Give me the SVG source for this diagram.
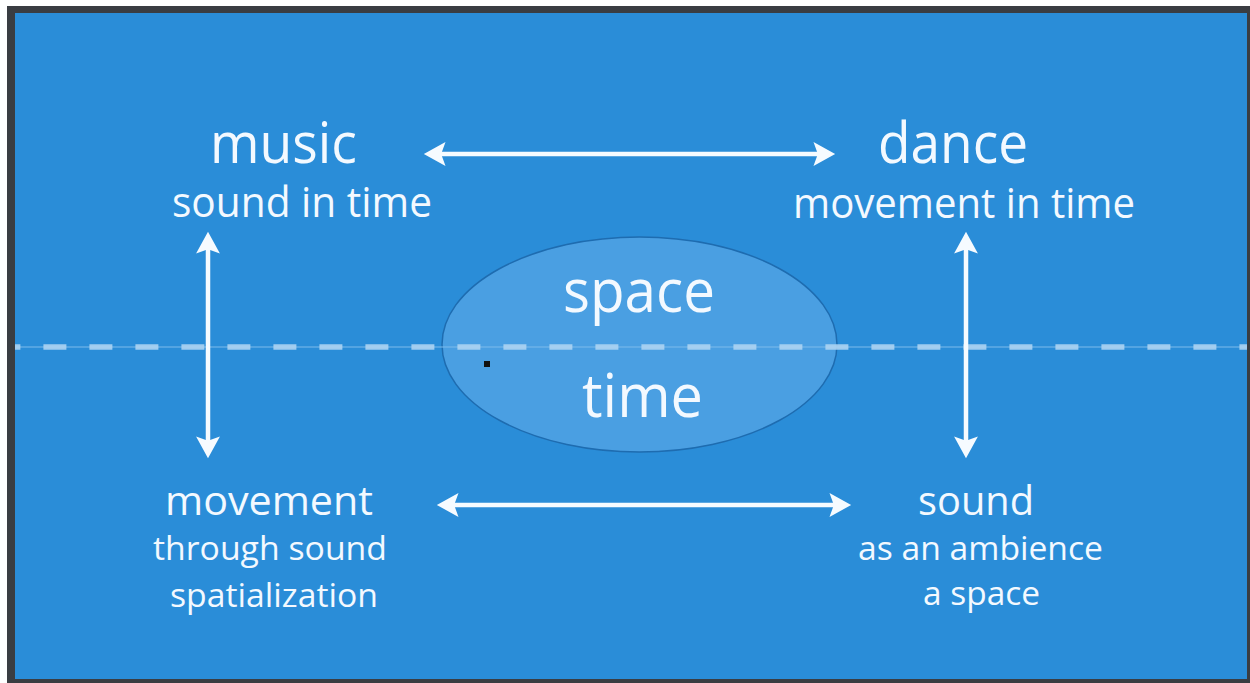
<svg xmlns="http://www.w3.org/2000/svg" width="1250" height="683" viewBox="0 0 1250 683">
<style>
text{font-family:"Open Sans","Noto Sans","Liberation Sans",sans-serif;fill:#f3f9ff;text-anchor:middle}
.t{font-size:56px}.s{font-size:42.5px}.b{font-size:33.6px}.c{font-size:61px}
.arr{stroke:#f6fbff;stroke-width:4.5;fill:none;marker-start:url(#ah);marker-end:url(#ah)}
</style>
<defs>
<marker id="ah" markerUnits="userSpaceOnUse" markerWidth="24" markerHeight="26" viewBox="0 -12 22 24" refX="6" refY="0" orient="auto-start-reverse">
<path d="M0,-11 L20,0 L0,11 L4,0 Z" fill="#f6fbff"/>
</marker>
</defs>
<rect x="0" y="0" width="1250" height="683" fill="#ffffff"/>
<rect x="7" y="6" width="1243" height="677" fill="#3a3d42"/>
<rect x="15" y="13" width="1232" height="666" fill="#2a8dd8"/>
<g id="center">
<ellipse cx="639.5" cy="344.5" rx="197.5" ry="107.5" fill="#4a9fe2" stroke="#1e6cb0" stroke-width="1.5"/>
</g>
<g id="divider">
<line x1="15" y1="347" x2="1247" y2="347" stroke="#7cbcec" stroke-width="1.2"/>
<line x1="15" y1="347" x2="1247" y2="347" stroke="#acd3f2" stroke-opacity="0.9" stroke-width="5.5" stroke-dasharray="23 23" stroke-dashoffset="-28.4"/>
</g>
<rect x="484" y="361" width="6" height="6" fill="#111111"/>
<g id="center-labels">
<text class="c" x="639" y="312" textLength="152" lengthAdjust="spacingAndGlyphs">space</text>
<text class="c" x="642.5" y="417" textLength="121" lengthAdjust="spacingAndGlyphs">time</text>
</g>
<g id="connectors">
<line class="arr" x1="439" y1="154" x2="820" y2="154"/>
<line class="arr" x1="452" y1="505" x2="836" y2="505"/>
<line class="arr" x1="208" y1="247" x2="208" y2="443"/>
<line class="arr" x1="966" y1="247" x2="966" y2="443"/>
</g>
<g id="music">
<text class="t" x="283.5" y="163" textLength="147" lengthAdjust="spacingAndGlyphs">music</text>
<text class="s" x="302" y="217" textLength="260" lengthAdjust="spacingAndGlyphs">sound in time</text>
</g>
<g id="dance">
<text class="t" x="953" y="163" textLength="150" lengthAdjust="spacingAndGlyphs">dance</text>
<text class="s" x="964" y="218" textLength="342" lengthAdjust="spacingAndGlyphs">movement in time</text>
</g>
<g id="movement">
<text x="269" y="515" style="font-size:41px" textLength="208" lengthAdjust="spacingAndGlyphs">movement</text>
<text class="b" x="270" y="560" textLength="234" lengthAdjust="spacingAndGlyphs">through sound</text>
<text class="b" x="274" y="607" textLength="208" lengthAdjust="spacingAndGlyphs">spatialization</text>
</g>
<g id="sound">
<text x="976" y="515" style="font-size:40px" textLength="116" lengthAdjust="spacingAndGlyphs">sound</text>
<text class="b" x="980.5" y="560" textLength="245" lengthAdjust="spacingAndGlyphs">as an ambience</text>
<text class="b" x="981.5" y="605" textLength="117" lengthAdjust="spacingAndGlyphs">a space</text>
</g>
</svg>
